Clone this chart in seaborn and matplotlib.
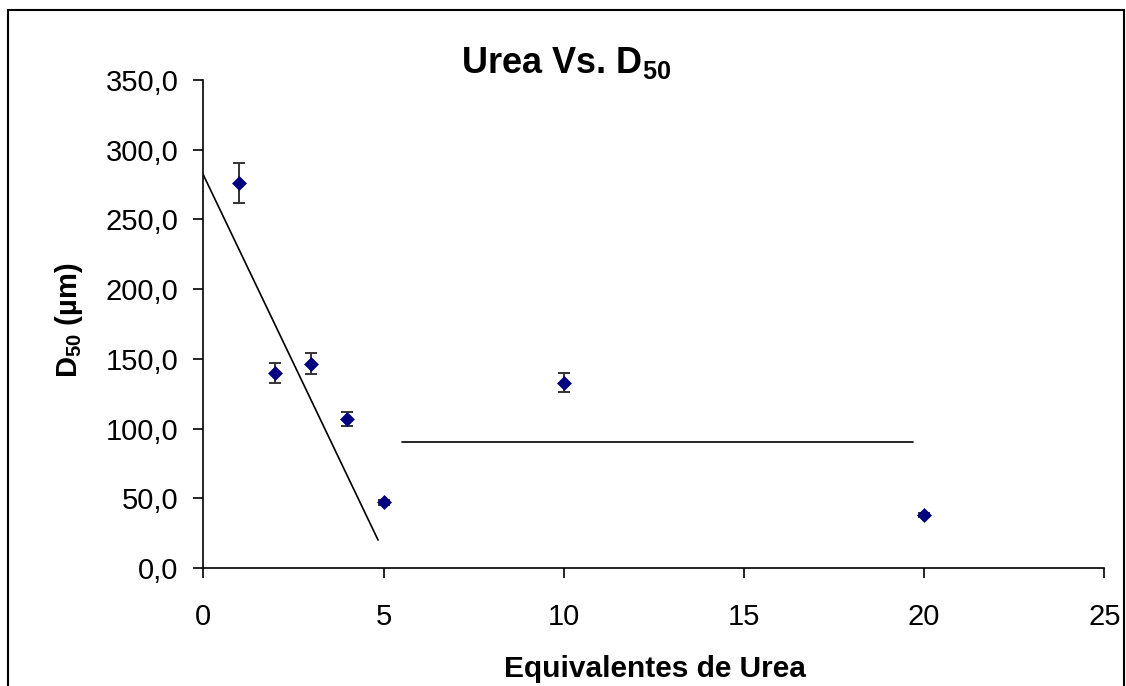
import matplotlib
matplotlib.use("Agg")
import matplotlib.pyplot as plt
import seaborn as sns
from matplotlib.patches import Rectangle
from matplotlib.ticker import FuncFormatter

# data
urea = [1, 2, 3, 4, 5, 10, 20]
d50 = [276.0, 140.0, 146.5, 107.0, 47.0, 133.0, 38.0]
d50_err = [14.5, 7.0, 7.5, 5.2, 2.0, 6.6, 1.5]

trend1_x = [0, 4.85]
trend1_y = [282.0, 20.0]
trend2_x = [5.5, 19.7]
trend2_y = [90.6, 90.6]

x_ticks = [0, 5, 10, 15, 20, 25]
y_ticks = [0, 50, 100, 150, 200, 250, 300, 350]

sns.set_style("white")
plt.rcParams["font.family"] = ["Liberation Sans", "DejaVu Sans"]
plt.rcParams["mathtext.fontset"] = "custom"
plt.rcParams["mathtext.rm"] = "Liberation Sans"
plt.rcParams["mathtext.bf"] = "Liberation Sans:bold"
plt.rcParams["text.color"] = "black"
plt.rcParams["axes.labelcolor"] = "black"
plt.rcParams["xtick.color"] = "black"
plt.rcParams["ytick.color"] = "black"

fig = plt.figure(figsize=(11.26, 6.86), dpi=100)
ax = fig.add_axes([203.3 / 1126, 1 - 568 / 686, 901 / 1126, 488 / 686])

ax.errorbar(urea, d50, yerr=d50_err, fmt="none", ecolor="#333333",
            elinewidth=1.4, capsize=4, capthick=1.4, zorder=2)
sns.scatterplot(x=urea, y=d50, marker="D", s=50, color="#000080",
                edgecolor="#000080", linewidth=0.5, zorder=3, ax=ax)
sns.lineplot(x=trend1_x, y=trend1_y, color="black", linewidth=1.2, ax=ax)
sns.lineplot(x=trend2_x, y=trend2_y, color="black", linewidth=1.2, ax=ax)

ax.set_xlim(0, 25)
ax.set_ylim(0, 350)
ax.set_xticks(x_ticks)
ax.set_yticks(y_ticks)
ax.yaxis.set_major_formatter(FuncFormatter(lambda v, p: f"{v:.1f}".replace(".", ",")))

for side in ["top", "right"]:
    ax.spines[side].set_visible(False)
for side in ["left", "bottom"]:
    ax.spines[side].set_color("black")
    ax.spines[side].set_linewidth(1.2)

ax.tick_params(axis="both", direction="out", length=7, width=1.2,
               colors="black", labelsize=21, bottom=True, left=True)
ax.tick_params(axis="x", pad=18)
ax.tick_params(axis="y", pad=11)

ax.set_xlabel("Equivalentes de Urea", fontsize=21.5, fontweight="bold")
ax.xaxis.label.set_va("baseline")
ax.xaxis.set_label_coords(0.501, -0.2227)
ax.set_ylabel(r"D$_\mathbf{50}$ (µm)", fontsize=21, fontweight="bold")
ax.yaxis.set_label_coords(-0.131, 0.508)

fig.text(566.5 / 1126, 1 - 73.3 / 686, r"Urea Vs. D$_\mathbf{50}$",
         fontsize=26, fontweight="bold", ha="center", va="baseline")

fig.patches.append(Rectangle((8 / 1126, -0.02), 1116 / 1126, 1 - 10 / 686 + 0.02,
                             transform=fig.transFigure, fill=False,
                             edgecolor="black", linewidth=1.5))

fig.savefig("out.png", dpi=100)
